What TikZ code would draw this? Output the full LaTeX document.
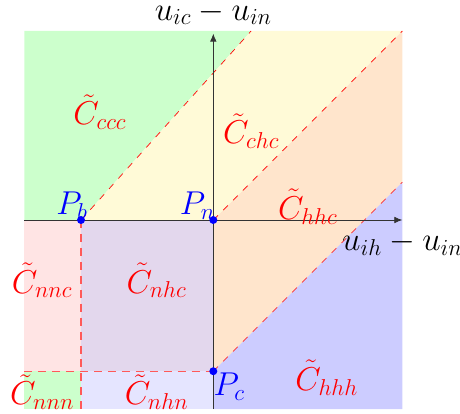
\documentclass[tikz,border=0pt]{standalone}
\usetikzlibrary{arrows.meta}

\definecolor{verde}{RGB}{204,255,204}
\definecolor{giallo}{RGB}{255,250,215}
\definecolor{arancio}{RGB}{255,229,204}
\definecolor{azzurro}{RGB}{204,204,255}
\definecolor{rosa}{RGB}{255,228,228}
\definecolor{viola}{RGB}{227,215,237}
\definecolor{lilla}{RGB}{229,229,255}

\begin{document}
\begin{tikzpicture}[
    font=\fontsize{23}{28}\selectfont,
    confine/.style={red,dash pattern=on 5pt off 5.5pt,line width=0.5pt},
    bordo/.style={red!65,dash pattern=on 6pt off 4.5pt,line width=0.9pt},
    asse/.style={line width=0.6pt,black!80,-{Latex[length=6pt,width=5pt]}},
    punto/.style={circle,fill=blue,inner sep=0pt,minimum size=6pt},
    nomepunto/.style={text=blue,inner sep=0pt},
    nomeregione/.style={text=red,inner sep=0pt}]

  \useasboundingbox (-5.643,-5.132) rectangle (6.526,5.820);

  % ---- punti notevoli e vertici ------------------------------------------
  \coordinate (Pb) at (-3.5,0);
  \coordinate (Pn) at (0,0);
  \coordinate (Pc) at (0,-4);
  \coordinate (sx) at (-5,-4);
  \coordinate (giu) at (-3.5,-5);
  \coordinate (su) at (1,5);
  \coordinate (ne) at (5,5);
  \coordinate (dx) at (5,1);

  % ---- regioni -------------------------------------------------------------
  \fill[verde]   (-5,0) -- (Pb) -- (su) -- (-5,5) -- cycle;
  \fill[giallo]  (Pb) -- (Pn) -- (ne) -- (su) -- cycle;
  \fill[arancio] (Pn) -- (ne) -- (dx) -- (Pc) -- cycle;
  \fill[azzurro] (Pc) -- (dx) -- (5,-5) -- (0,-5) -- cycle;
  \fill[rosa]    (-5,0) -- (Pb) -- (-3.5,-4) -- (sx) -- cycle;
  \fill[viola]   (Pb) -- (Pn) -- (Pc) -- (-3.5,-4) -- cycle;
  \fill[verde]   (sx) -- (-3.5,-4) -- (giu) -- (-5,-5) -- cycle;
  \fill[lilla]   (-3.5,-4) -- (Pc) -- (0,-5) -- (giu) -- cycle;

  % ---- confini tratteggiati --------------------------------------------------
  \draw[confine] (Pb) -- (su);
  \draw[confine] (Pn) -- (ne);
  \draw[confine] (Pc) -- (dx);
  \draw[bordo] (Pb) -- (giu);
  \draw[bordo] (sx) -- (Pc);

  % ---- assi ----------------------------------------------------------------
  \coordinate (xa) at (-5,0);
  \coordinate (xb) at (5,0);
  \coordinate (ya) at (0,-5);
  \coordinate (yb) at (0,4.93);
  \draw[asse] (xa) -- (xb);
  \draw[asse] (ya) -- (yb);
  \node[inner sep=0pt] (ex) at (5,-0.63) {$u_{ih}-u_{in}$};
  \node[inner sep=0pt] (ey) at (0,5.48)  {$u_{ic}-u_{in}$};

  % ---- punti -----------------------------------------------------------------
  \node[punto] (b) at (Pb) {};
  \node[punto] (n) at (Pn) {};
  \node[punto] (c) at (Pc) {};
  \node[nomepunto] (lb) at (-3.74,0.37) {$P_b$};
  \node[nomepunto] (ln) at (-0.42,0.37) {$P_n$};
  \node[nomepunto] (lc) at (0.42,-4.42) {$P_c$};

  % ---- nomi delle regioni ----------------------------------------------------
  \node[nomeregione] (ccc) at (-3,2.85)    {$\tilde{C}_{ccc}$};
  \node[nomeregione] (chc) at (1,2.35)     {$\tilde{C}_{chc}$};
  \node[nomeregione] (hhc) at (2.5,0.35)   {$\tilde{C}_{hhc}$};
  \node[nomeregione] (hhh) at (3,-4.17)    {$\tilde{C}_{hhh}$};
  \node[nomeregione] (nnc) at (-4.53,-1.6) {$\tilde{C}_{nnc}$};
  \node[nomeregione] (nhc) at (-1.5,-1.6)  {$\tilde{C}_{nhc}$};
  \node[nomeregione] (nnn) at (-4.53,-4.55) {$\tilde{C}_{nnn}$};
  \node[nomeregione] (nhn) at (-1.5,-4.55) {$\tilde{C}_{nhn}$};

\end{tikzpicture}
\end{document}
